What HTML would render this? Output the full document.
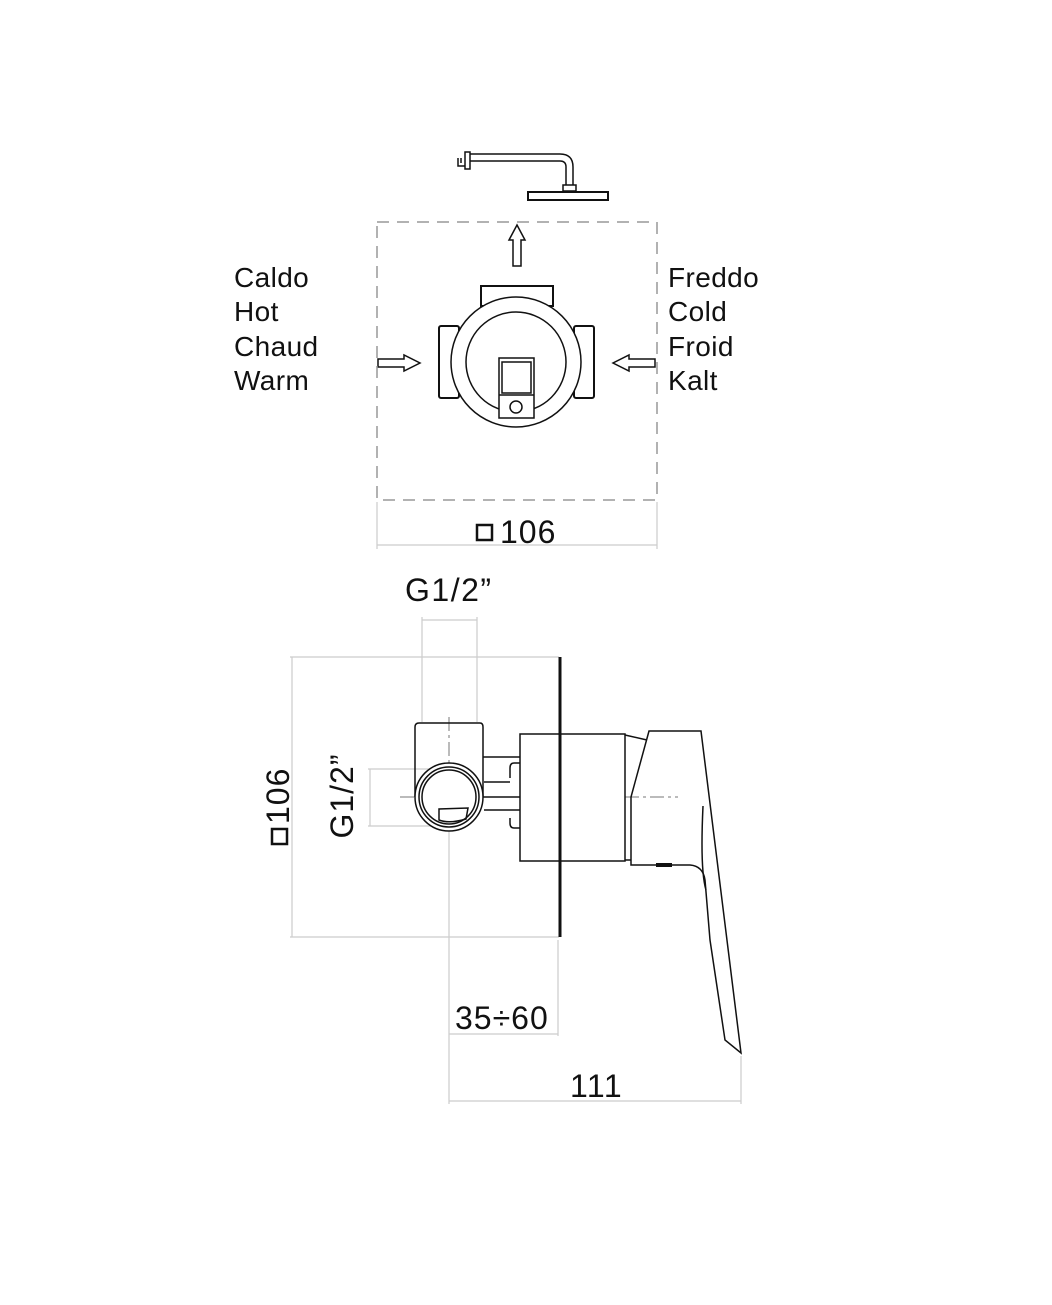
<!DOCTYPE html>
<html><head><style>
html,body{margin:0;padding:0;background:#fff}
svg{display:block}
text{font-family:"Liberation Sans",Arial,sans-serif;fill:#111}
</style></head><body>
<svg width="1052" height="1305" viewBox="0 0 1052 1305" xmlns="http://www.w3.org/2000/svg">
<rect width="1052" height="1305" fill="#fff"/>
<g fill="none" stroke="#111" stroke-width="1.5">
  <rect x="465" y="152" width="5" height="17"/>
  <path d="M458 158 v8 h7 M461 158 v5"/>
  <path d="M470 154 H560 Q573 154 573 167 V185 M470 161 H560 Q566 161 566 167 V185"/>
  <rect x="563" y="185" width="13" height="6"/>
  <rect x="528" y="192" width="80" height="8" stroke-width="2"/>
  <path d="M513 266 V240 H509 L517 225 L525 240 H521 V266 Z"/>
  <path d="M378 359 H404 V355 L420 363 L404 371 V367 H378 Z"/>
  <path d="M655 359 H629 V355 L613 363 L629 371 V367 H655 Z"/>
  <rect x="481" y="286" width="72" height="20" stroke-width="2"/>
  <rect x="439" y="326" width="20" height="72" rx="2" stroke-width="2"/>
  <rect x="574" y="326" width="20" height="72" rx="2" stroke-width="2"/>
  <circle cx="516" cy="362" r="65" fill="#fff"/>
  <circle cx="516" cy="362" r="50"/>
  <rect x="499" y="358" width="35" height="60" fill="#fff"/>
  <rect x="502" y="362" width="29" height="31"/>
  <line x1="499" y1="395" x2="534" y2="395"/>
  <circle cx="516" cy="407" r="6"/>
</g>
<rect x="377" y="222" width="280" height="278" fill="none" stroke="#999" stroke-width="1.5" stroke-dasharray="12,8"/>
<g stroke="#ccc" stroke-width="1.2">
  <line x1="377" y1="502" x2="377" y2="549"/>
  <line x1="657" y1="502" x2="657" y2="549"/>
  <line x1="377" y1="545" x2="657" y2="545"/>
</g>
<rect x="477" y="525" width="15" height="15" fill="none" stroke="#111" stroke-width="2.5"/>
<text x="500" y="543" font-size="32" letter-spacing="1">106</text>
<g font-size="28" letter-spacing="0.4">
<text x="234" y="287">Caldo</text><text x="234" y="321">Hot</text><text x="234" y="356">Chaud</text><text x="234" y="390">Warm</text>
<text x="668" y="287">Freddo</text><text x="668" y="321">Cold</text><text x="668" y="356">Froid</text><text x="668" y="390">Kalt</text>
</g>
<g stroke="#ccc" stroke-width="1.2" fill="none">
  <line x1="422" y1="617" x2="422" y2="722"/>
  <line x1="477" y1="617" x2="477" y2="722"/>
  <line x1="422" y1="620" x2="477" y2="620"/>
  <line x1="290" y1="657" x2="559" y2="657"/>
  <line x1="290" y1="937" x2="559" y2="937"/>
  <line x1="292" y1="657" x2="292" y2="937"/>
  <line x1="368" y1="769" x2="450" y2="769"/>
  <line x1="368" y1="826" x2="450" y2="826"/>
  <line x1="370" y1="769" x2="370" y2="826"/>
  <line x1="449" y1="830" x2="449" y2="1104"/>
  <line x1="558" y1="940" x2="558" y2="1036"/>
  <line x1="449" y1="1034" x2="558" y2="1034"/>
  <line x1="741" y1="1056" x2="741" y2="1104"/>
  <line x1="449" y1="1101" x2="741" y2="1101"/>
</g>
<g stroke="#777" stroke-width="1" stroke-dasharray="14,4,3,4" fill="none">
  <line x1="400" y1="797" x2="678" y2="797"/>
  <line x1="449" y1="717" x2="449" y2="835"/>
</g>
<g fill="none" stroke="#111" stroke-width="1.5">
  <path d="M415 797 V727 Q415 723 419 723 H480 Q483 723 483 727 V797"/>
  <path d="M483 757 H520 M483 797 H520 M484 782 H510 M484 810 H520"/>
  <path d="M520 763 H514 Q510 763 510 768 V778 M520 828 H514 Q510 828 510 823 V818"/>
  <circle cx="449" cy="797" r="34" fill="#fff"/>
  <circle cx="449" cy="797" r="30"/>
  <circle cx="449" cy="797" r="27"/>
  <path d="M439 809 L439 820 Q449 824 466 819 L468 808 Z"/>
  <rect x="520" y="734" width="105" height="127" fill="#fff"/>
  <path d="M625 735 L647 740 M625 860 L631 860"/>
  <line x1="560" y1="657" x2="560" y2="937" stroke-width="3"/>
  <path d="M649 731 H701 L741 1053 L725 1040 Q719 1000 710 940 L705 880 Q703 866 690 865 H631 V797 Z"/>
  <path d="M703 806 Q700 870 706 890"/>
</g>
<line x1="656" y1="865" x2="672" y2="865" stroke="#111" stroke-width="4"/>
<text x="405" y="601" font-size="32" letter-spacing="1.5">G1/2”</text>
<text x="455" y="1029" font-size="32" letter-spacing="1">35÷60</text>
<text x="570" y="1097" font-size="32" letter-spacing="1.5">111</text>
<text transform="translate(353,796) rotate(-90)" text-anchor="middle" font-size="32" letter-spacing="1">G1/2”</text>
<text transform="translate(289,824) rotate(-90)" font-size="32" letter-spacing="1">106</text>
<rect x="272" y="829" width="15" height="15" fill="none" stroke="#111" stroke-width="2.5"/>
</svg>
</body></html>
